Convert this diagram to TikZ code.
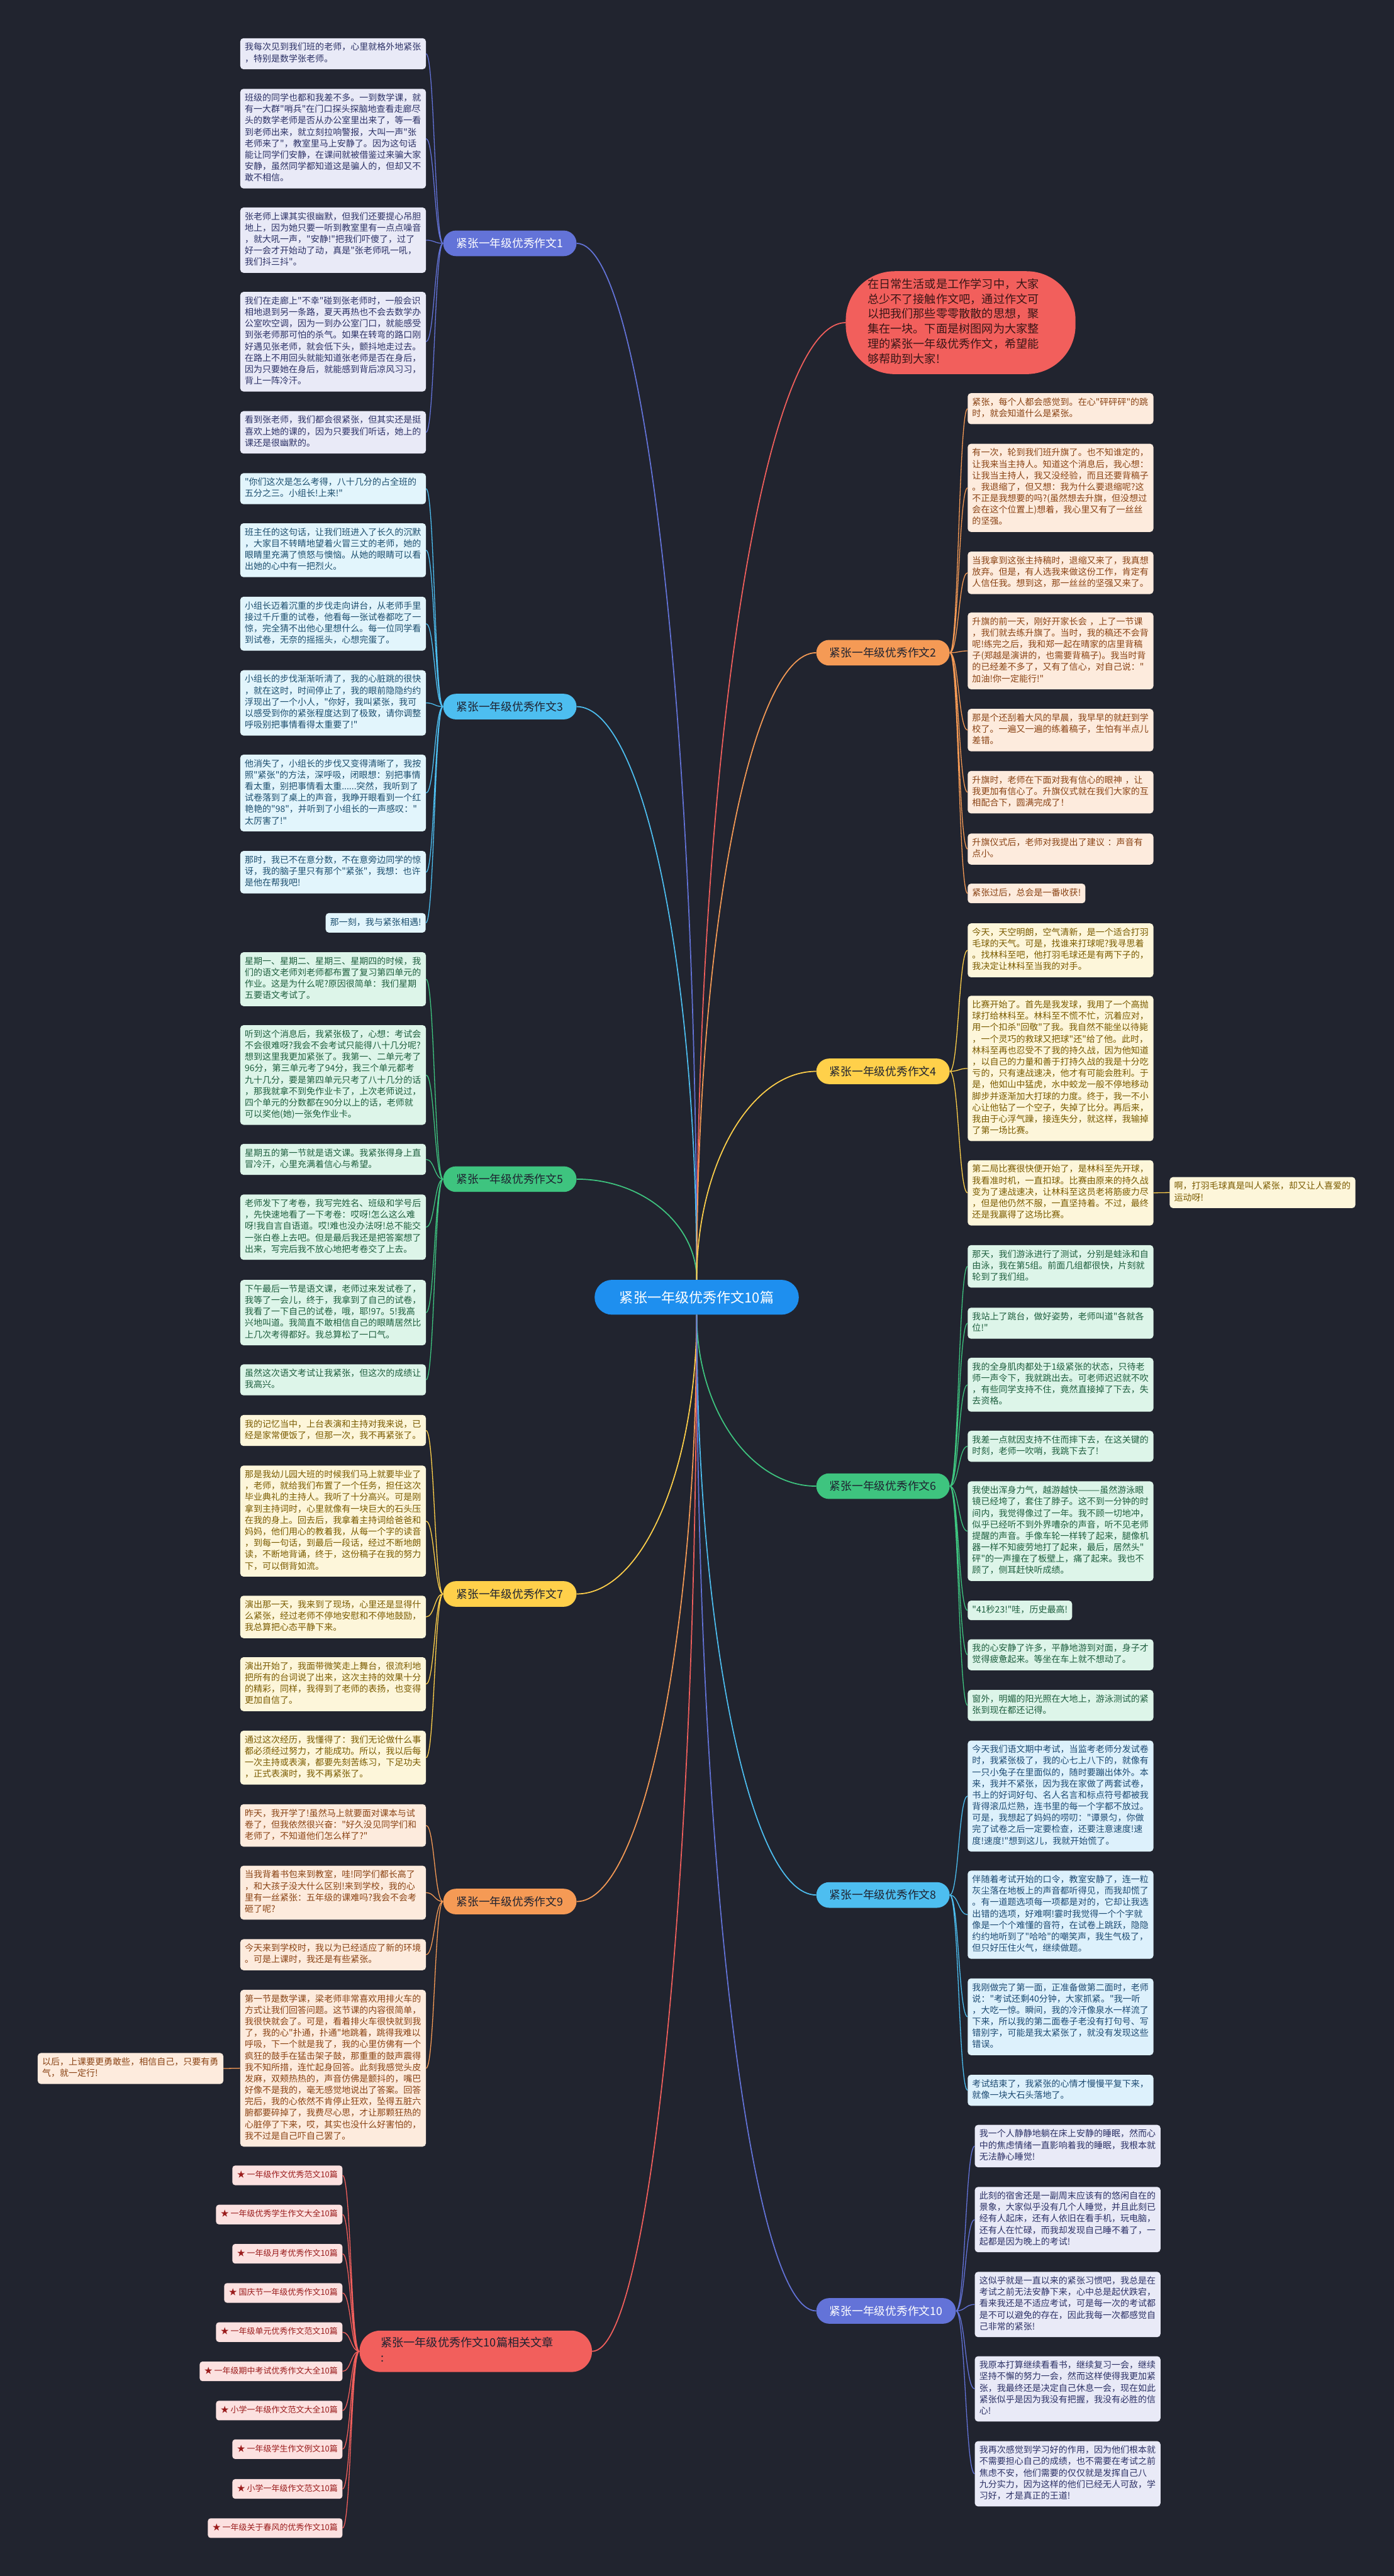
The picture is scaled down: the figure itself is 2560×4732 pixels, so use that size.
\documentclass[tikz,border=0pt]{standalone}
\usepackage{fontspec}
\setmainfont{Noto Sans CJK SC}[Ligatures=TeXOff]
\usepackage{tikz}
\usetikzlibrary{calc}
\definecolor{bgdark}{HTML}{21242F}
\definecolor{darkink}{HTML}{1E2230}
\definecolor{hubblue}{HTML}{1E8FEF}
\definecolor{indigoM}{HTML}{6373D8}
\definecolor{skyM}{HTML}{4DBEF0}
\definecolor{greenM}{HTML}{3EC47F}
\definecolor{yellowM}{HTML}{FFD04A}
\definecolor{orangeM}{HTML}{F59A55}
\definecolor{redM}{HTML}{F25F5C}
\definecolor{lavfill}{HTML}{E9EAF7}
\definecolor{lavtext}{HTML}{2C3166}
\definecolor{cyanfill}{HTML}{E2F5FC}
\definecolor{cyantext}{HTML}{1C4E6E}
\definecolor{mintfill}{HTML}{DDF5E9}
\definecolor{minttext}{HTML}{1E5E3E}
\definecolor{creamfill}{HTML}{FDF6DA}
\definecolor{creamtext}{HTML}{7A5B00}
\definecolor{peachfill}{HTML}{FDEBDD}
\definecolor{peachtext}{HTML}{8A4314}
\definecolor{bluefill}{HTML}{DDF1FC}
\definecolor{bluetext}{HTML}{1D4B73}
\definecolor{pinkfill}{HTML}{FCE1E0}
\definecolor{pinktext}{HTML}{9A1B1B}
\definecolor{introtext}{HTML}{3A1616}

\begin{document}
\begin{tikzpicture}[
    x=1pt, y=-1pt,
    every node/.style={font=\fontsize{16.2}{21}\selectfont},
    hub/.style={fill=hubblue,text=white,rounded corners=32pt,minimum width=375pt,minimum height=64pt,inner sep=0pt,font=\fontsize{25.5}{30}\selectfont},
    branch/.style={rounded corners=23.5pt,minimum height=47pt,inner xsep=24.5pt,inner ysep=0pt,text=darkink,font=\fontsize{20.5}{24}\selectfont},
    introbox/.style={anchor=north west,fill=redM,text=introtext,rounded corners=90pt,text width=342pt,align=left,inner xsep=40pt,inner ysep=12pt,font=\fontsize{21}{27.5}\selectfont,execute at begin node=\strut,execute at end node=\strut},
    relbranch/.style={anchor=north west,fill=redM,text=darkink,rounded corners=38pt,text width=349pt,align=left,inner xsep=39pt,inner ysep=11pt,font=\fontsize{21}{27}\selectfont,execute at begin node=\strut,execute at end node=\strut},
    kidbox/.style={anchor=north west,rounded corners=6pt,text width=324.5pt,align=left,inner xsep=8.25pt,inner ysep=7.5pt,execute at begin node=\strut,execute at end node=\strut},
    kidshort/.style={rounded corners=6pt,inner xsep=8.25pt,inner ysep=7.5pt,execute at begin node=\strut},
    relitem/.style={anchor=east,fill=pinkfill,text=pinktext,rounded corners=5pt,inner xsep=8.5pt,inner ysep=7.5pt,font=\fontsize{15}{21}\selectfont,execute at begin node=\strut},
    lav/.style={fill=lavfill,text=lavtext},
    cyan/.style={fill=cyanfill,text=cyantext},
    mint/.style={fill=mintfill,text=minttext},
    cream/.style={fill=creamfill,text=creamtext},
    peach/.style={fill=peachfill,text=peachtext},
    pale/.style={fill=bluefill,text=bluetext},
    kid/.style={to path={.. controls ($(\tikztostart)!0.5!(\tikztostart -| \tikztotarget)$) and ($(\tikztotarget)!0.5!(\tikztotarget -| \tikztostart)$) .. (\tikztotarget)}},
    trunk/.style={to path={.. controls ($(\tikztostart)!0.55!(\tikztostart |- \tikztotarget)$) and ($(\tikztotarget)!0.55!(\tikztostart |- \tikztotarget)$) .. (\tikztotarget)}},
    thinw/.style={line width=1.5pt},
    thickw/.style={line width=2pt}
  ]
  \fill[bgdark] (0,0) rectangle (2560,4732);

  % centre and intro
  \node[hub] (hub) at (1279.5,2383) {紧张一年级优秀作文10篇};
  \node[introbox] (intro) at (1553,498) {在日常生活或是工作学习中，大家\\总少不了接触作文吧，通过作文可\\以把我们那些零零散散的思想，聚\\集在一块。下面是树图网为大家整\\理的紧张一年级优秀作文，希望能\\够帮助到大家!};

  % branches
  \node[branch,fill=indigoM,text=white,anchor=east] (b1) at (1059,447) {紧张一年级优秀作文1};
  \node[branch,fill=skyM,anchor=east] (b3) at (1059,1298) {紧张一年级优秀作文3};
  \node[branch,fill=greenM,anchor=east] (b5) at (1059,2166) {紧张一年级优秀作文5};
  \node[branch,fill=yellowM,anchor=east] (b7) at (1059,2928) {紧张一年级优秀作文7};
  \node[branch,fill=orangeM,anchor=east] (b9) at (1059,3493) {紧张一年级优秀作文9};
  \node[relbranch] (rel) at (660,4281) {紧张一年级优秀作文10篇相关文章\\:};
  \node[branch,fill=orangeM,anchor=west] (b2) at (1499,1199) {紧张一年级优秀作文2};
  \node[branch,fill=yellowM,anchor=west] (b4) at (1499,1968) {紧张一年级优秀作文4};
  \node[branch,fill=greenM,anchor=west] (b6) at (1499,2730) {紧张一年级优秀作文6};
  \node[branch,fill=skyM,anchor=west] (b8) at (1499,3481) {紧张一年级优秀作文8};
  \node[branch,fill=indigoM,text=white,anchor=west] (b10) at (1499,4245) {紧张一年级优秀作文10};

  % essay 1
  \node[kidbox,lav] (l1a) at (441,70) {我每次见到我们班的老师，心里就格外地紧张\\，特别是数学张老师。};
  \node[kidbox,lav] (l1b) at (441,163) {班级的同学也都和我差不多。一到数学课，就\\有一大群"哨兵"在门口探头探脑地查看走廊尽\\头的数学老师是否从办公室里出来了，等一看\\到老师出来，就立刻拉响警报，大叫一声"张\\老师来了"，教室里马上安静了。因为这句话\\能让同学们安静，在课间就被借鉴过来骗大家\\安静，虽然同学都知道这是骗人的，但却又不\\敢不相信。};
  \node[kidbox,lav] (l1c) at (441,381) {张老师上课其实很幽默，但我们还要提心吊胆\\地上，因为她只要一听到教室里有一点点噪音\\，就大吼一声，"安静!"把我们吓傻了，过了\\好一会才开始动了动，真是"张老师吼一吼，\\我们抖三抖"。};
  \node[kidbox,lav] (l1d) at (441,536) {我们在走廊上"不幸"碰到张老师时，一般会识\\相地退到另一条路，夏天再热也不会去数学办\\公室吹空调，因为一到办公室门口，就能感受\\到张老师那可怕的杀气。如果在转弯的路口刚\\好遇见张老师，就会低下头，颤抖地走过去。\\在路上不用回头就能知道张老师是否在身后，\\因为只要她在身后，就能感到背后凉风习习，\\背上一阵冷汗。};
  \node[kidbox,lav] (l1e) at (441,755) {看到张老师，我们都会很紧张，但其实还是挺\\喜欢上她的课的，因为只要我们听话，她上的\\课还是很幽默的。};

  % essay 3
  \node[kidbox,cyan] (l3a) at (441,869) {"你们这次是怎么考得，八十几分的占全班的\\五分之三。小组长!上来!"};
  \node[kidbox,cyan] (l3b) at (441,961) {班主任的这句话，让我们班进入了长久的沉默\\，大家目不转睛地望着火冒三丈的老师，她的\\眼睛里充满了愤怒与懊恼。从她的眼睛可以看\\出她的心中有一把烈火。};
  \node[kidbox,cyan] (l3c) at (441,1096) {小组长迈着沉重的步伐走向讲台，从老师手里\\接过千斤重的试卷，他看每一张试卷都吃了一\\惊，完全猜不出他心里想什么。每一位同学看\\到试卷，无奈的摇摇头，心想完蛋了。};
  \node[kidbox,cyan] (l3d) at (441,1231) {小组长的步伐渐渐听清了，我的心脏跳的很快\\，就在这时，时间停止了，我的眼前隐隐约约\\浮现出了一个小人，"你好，我叫紧张，我可\\以感受到你的紧张程度达到了极致，请你调整\\呼吸别把事情看得太重要了!"};
  \node[kidbox,cyan] (l3e) at (441,1386) {他消失了，小组长的步伐又变得清晰了，我按\\照"紧张"的方法，深呼吸，闭眼想：别把事情\\看太重，别把事情看太重......突然，我听到了\\试卷落到了桌上的声音，我睁开眼看到一个红\\艳艳的"98"，并听到了小组长的一声感叹："\\太厉害了!"};
  \node[kidbox,cyan] (l3f) at (441,1563) {那时，我已不在意分数，不在意旁边同学的惊\\讶，我的脑子里只有那个"紧张"，我想：也许\\是他在帮我吧!};
  \node[kidshort,cyan,anchor=north east] (l3g) at (782,1677) {那一刻，我与紧张相遇!};

  % essay 5
  \node[kidbox,mint] (l5a) at (441,1749) {星期一、星期二、星期三、星期四的时候，我\\们的语文老师刘老师都布置了复习第四单元的\\作业。这是为什么呢?原因很简单：我们星期\\五要语文考试了。};
  \node[kidbox,mint] (l5b) at (441,1883) {听到这个消息后，我紧张极了，心想：考试会\\不会很难呀?我会不会考试只能得八十几分呢?\\想到这里我更加紧张了。我第一、二单元考了\\96分，第三单元考了94分，我三个单元都考\\九十几分，要是第四单元只考了八十几分的话\\，那我就拿不到免作业卡了，上次老师说过，\\四个单元的分数都在90分以上的话，老师就\\可以奖他(她)一张免作业卡。};
  \node[kidbox,mint] (l5c) at (441,2101) {星期五的第一节就是语文课。我紧张得身上直\\冒冷汗，心里充满着信心与希望。};
  \node[kidbox,mint] (l5d) at (441,2194) {老师发下了考卷，我写完姓名、班级和学号后\\，先快速地看了一下考卷：哎呀!怎么这么难\\呀!我自言自语道。哎!难也没办法呀!总不能交\\一张白卷上去吧。但是最后我还是把答案想了\\出来，写完后我不放心地把考卷交了上去。};
  \node[kidbox,mint] (l5e) at (441,2351) {下午最后一节是语文课，老师过来发试卷了，\\我等了一会儿，终于，我拿到了自己的试卷，\\我看了一下自己的试卷，哦，耶!97。5!我高\\兴地叫道。我简直不敢相信自己的眼睛居然比\\上几次考得都好。我总算松了一口气。};
  \node[kidbox,mint] (l5f) at (441,2506) {虽然这次语文考试让我紧张，但这次的成绩让\\我高兴。};

  % essay 7
  \node[kidbox,cream] (l7a) at (441,2599) {我的记忆当中，上台表演和主持对我来说，已\\经是家常便饭了，但那一次，我不再紧张了。};
  \node[kidbox,cream] (l7b) at (441,2692) {那是我幼儿园大班的时候我们马上就要毕业了\\，老师，就给我们布置了一个任务，担任这次\\毕业典礼的主持人。我听了十分高兴。可是刚\\拿到主持词时，心里就像有一块巨大的石头压\\在我的身上。回去后，我拿着主持词给爸爸和\\妈妈，他们用心的教着我，从每一个字的读音\\，到每一句话，到最后一段话，经过不断地朗\\读，不断地背诵，终于，这份稿子在我的努力\\下，可以倒背如流。};
  \node[kidbox,cream] (l7c) at (441,2931) {演出那一天，我来到了现场，心里还是显得什\\么紧张，经过老师不停地安慰和不停地鼓励，\\我总算把心态平静下来。};
  \node[kidbox,cream] (l7d) at (441,3044) {演出开始了，我面带微笑走上舞台，很流利地\\把所有的台词说了出来，这次主持的效果十分\\的精彩，同样，我得到了老师的表扬，也变得\\更加自信了。};
  \node[kidbox,cream] (l7e) at (441,3179) {通过这次经历，我懂得了：我们无论做什么事\\都必须经过努力，才能成功。所以，我以后每\\一次主持或表演，都要先刻苦练习，下足功夫\\，正式表演时，我不再紧张了。};

  % essay 9
  \node[kidbox,peach] (l9a) at (441,3314) {昨天，我开学了!虽然马上就要面对课本与试\\卷了，但我依然很兴奋："好久没见同学们和\\老师了，不知道他们怎么样了?"};
  \node[kidbox,peach] (l9b) at (441,3427) {当我背着书包来到教室，哇!同学们都长高了\\，和大孩子没大什么区别!来到学校，我的心\\里有一丝紧张：五年级的课难吗?我会不会考\\砸了呢?};
  \node[kidbox,peach] (l9c) at (441,3562) {今天来到学校时，我以为已经适应了新的环境\\。可是上课时，我还是有些紧张。};
  \node[kidbox,peach] (l9d) at (441,3655) {第一节是数学课，梁老师非常喜欢用排火车的\\方式让我们回答问题。这节课的内容很简单，\\我很快就会了。可是，看着排火车很快就到我\\了，我的心"扑通，扑通"地跳着，跳得我难以\\呼吸，下一个就是我了，我的心里仿佛有一个\\疯狂的鼓手在猛击架子鼓，那重重的鼓声震得\\我不知所措，连忙起身回答。此刻我感觉头皮\\发麻，双颊热热的，声音仿佛是颤抖的，嘴巴\\好像不是我的，毫无感觉地说出了答案。回答\\完后，我的心依然不肯停止狂欢，坠得五脏六\\腑都要碎掉了，我费尽心思，才让那颗狂热的\\心脏停了下来，哎，其实也没什么好害怕的，\\我不过是自己吓自己罢了。};
  \node[kidbox,peach] (noteL) at (69,3771) {以后，上课要更勇敢些，相信自己，只要有勇\\气，就一定行!};

  % related articles
  \node[relitem] (s1) at (629,3996) {★ 一年级作文优秀范文10篇};
  \node[relitem] (s2) at (629,4068) {★ 一年级优秀学生作文大全10篇};
  \node[relitem] (s3) at (629,4140) {★ 一年级月考优秀作文10篇};
  \node[relitem] (s4) at (629,4212) {★ 国庆节一年级优秀作文10篇};
  \node[relitem] (s5) at (629,4284) {★ 一年级单元优秀作文范文10篇};
  \node[relitem] (s6) at (629,4356) {★ 一年级期中考试优秀作文大全10篇};
  \node[relitem] (s7) at (629,4428) {★ 小学一年级作文范文大全10篇};
  \node[relitem] (s8) at (629,4499) {★ 一年级学生作文例文10篇};
  \node[relitem] (s9) at (629,4572) {★ 小学一年级作文范文10篇};
  \node[relitem] (s10) at (629,4644) {★ 一年级关于春风的优秀作文10篇};

  % essay 2
  \node[kidbox,peach] (r2a) at (1777,722) {紧张，每个人都会感觉到。在心"砰砰砰"的跳\\时，就会知道什么是紧张。};
  \node[kidbox,peach] (r2b) at (1777,815) {有一次，轮到我们班升旗了。也不知谁定的，\\让我来当主持人。知道这个消息后，我心想：\\让我当主持人，我又没经验，而且还要背稿子\\。我退缩了，但又想：我为什么要退缩呢?这\\不正是我想要的吗?(虽然想去升旗，但没想过\\会在这个位置上)想着，我心里又有了一丝丝\\的坚强。};
  \node[kidbox,peach] (r2c) at (1777,1013) {当我拿到这张主持稿时，退缩又来了，我真想\\放弃。但是，有人选我来做这份工作，肯定有\\人信任我。想到这，那一丝丝的坚强又来了。};
  \node[kidbox,peach] (r2d) at (1777,1125) {升旗的前一天，刚好开家长会 ，上了一节课\\，我们就去练升旗了。当时，我的稿还不会背\\呢!练完之后，我和郑一起在晴家的店里背稿\\子(郑越是演讲的，也需要背稿子)。我当时背\\的已经差不多了，又有了信心，对自己说："\\加油!你一定能行!"};
  \node[kidbox,peach] (r2e) at (1777,1302) {那是个还刮着大风的早晨，我早早的就赶到学\\校了。一遍又一遍的练着稿子，生怕有半点儿\\差错。};
  \node[kidbox,peach] (r2f) at (1777,1416) {升旗时，老师在下面对我有信心的眼神 ，让\\我更加有信心了。升旗仪式就在我们大家的互\\相配合下，圆满完成了！};
  \node[kidbox,peach] (r2g) at (1777,1531) {升旗仪式后，老师对我提出了建议 ：声音有\\点小。};
  \node[kidshort,peach,anchor=north west] (r2h) at (1777,1623) {紧张过后，总会是一番收获!};

  % essay 4
  \node[kidbox,cream] (r4a) at (1777,1696) {今天，天空明朗，空气清新，是一个适合打羽\\毛球的天气。可是，找谁来打球呢?我寻思着\\。找林科至吧，他打羽毛球还是有两下子的，\\我决定让林科至当我的对手。};
  \node[kidbox,cream] (r4b) at (1777,1829) {比赛开始了。首先是我发球，我用了一个高抛\\球打给林科至。林科至不慌不忙，沉着应对，\\用一个扣杀"回敬"了我。我自然不能坐以待毙\\，一个灵巧的救球又把球"还"给了他。此时，\\林科至再也忍受不了我的持久战，因为他知道\\，以自己的力量和善于打持久战的我是十分吃\\亏的，只有速战速决，他才有可能会胜利。于\\是，他如山中猛虎，水中蛟龙一般不停地移动\\脚步并逐渐加大打球的力度。终于，我一不小\\心让他钻了一个空子，失掉了比分。再后来，\\我由于心浮气躁，接连失分，就这样，我输掉\\了第一场比赛。};
  \node[kidbox,cream] (r4c) at (1777,2131) {第二局比赛很快便开始了，是林科至先开球，\\我看准时机，一直扣球。比赛由原来的持久战\\变为了速战速决，让林科至这员老将筋疲力尽\\，但是他仍然不服，一直坚持着。不过，最终\\还是我赢得了这场比赛。};
  \node[kidbox,cream] (noteR) at (2148,2162) {啊，打羽毛球真是叫人紧张，却又让人喜爱的\\运动呀!};

  % essay 6
  \node[kidbox,mint] (r6a) at (1777,2287) {那天，我们游泳进行了测试，分别是蛙泳和自\\由泳，我在第5组。前面几组都很快，片刻就\\轮到了我们组。};
  \node[kidbox,mint] (r6b) at (1777,2402) {我站上了跳台，做好姿势，老师叫道"各就各\\位!"};
  \node[kidbox,mint] (r6c) at (1777,2494) {我的全身肌肉都处于1级紧张的状态，只待老\\师一声令下，我就跳出去。可老师迟迟就不吹\\，有些同学支持不住，竟然直接掉了下去，失\\去资格。};
  \node[kidbox,mint] (r6d) at (1777,2628) {我差一点就因支持不住而摔下去，在这关键的\\时刻，老师一吹哨，我跳下去了!};
  \node[kidbox,mint] (r6e) at (1777,2721) {我使出浑身力气，越游越快———虽然游泳眼\\镜已经垮了，套住了脖子。这不到一分钟的时\\间内，我觉得像过了一年。我不顾一切地冲，\\似乎已经听不到外界嘈杂的声音，听不见老师\\提醒的声音。手像车轮一样转了起来，腿像机\\器一样不知疲劳地打了起来，最后，居然头"\\砰"的一声撞在了板壁上，痛了起来。我也不\\顾了，侧耳赶快听成绩。};
  \node[kidshort,mint,anchor=north west] (r6f) at (1777,2940) {"41秒23!"哇，历史最高!};
  \node[kidbox,mint] (r6g) at (1777,3011) {我的心安静了许多，平静地游到对面，身子才\\觉得疲惫起来。等坐在车上就不想动了。};
  \node[kidbox,mint] (r6h) at (1777,3104) {窗外，明媚的阳光照在大地上，游泳测试的紧\\张到现在都还记得。};

  % essay 8
  \node[kidbox,pale] (r8a) at (1777,3197) {今天我们语文期中考试，当监考老师分发试卷\\时，我紧张极了，我的心七上八下的，就像有\\一只小兔子在里面似的，随时要蹦出体外。本\\来，我并不紧张，因为我在家做了两套试卷，\\书上的好词好句、名人名言和标点符号都被我\\背得滚瓜烂熟，连书里的每一个字都不放过。\\可是，我想起了妈妈的唠叨："谭景匀，你做\\完了试卷之后一定要检查，还要注意速度!速\\度!速度!"想到这儿，我就开始慌了。};
  \node[kidbox,pale] (r8b) at (1777,3436) {伴随着考试开始的口令，教室安静了，连一粒\\灰尘落在地板上的声音都听得见，而我却慌了\\。有一道题选项每一项都是对的，它却让我选\\出错的选项，好难啊!霎时我觉得一个个字就\\像是一个个难懂的音符，在试卷上跳跃，隐隐\\约约地听到了"哈哈"的嘲笑声，我生气极了，\\但只好压住火气，继续做题。};
  \node[kidbox,pale] (r8c) at (1777,3634) {我刚做完了第一面，正准备做第二面时，老师\\说："考试还剩40分钟，大家抓紧。"我一听\\，大吃一惊。瞬间，我的冷汗像泉水一样流了\\下来，所以我的第二面卷子老没有打句号、写\\错别字，可能是我太紧张了，就没有发现这些\\错误。};
  \node[kidbox,pale] (r8d) at (1777,3811) {考试结束了，我紧张的心情才慢慢平复下来，\\就像一块大石头落地了。};

  % essay 10
  \node[kidbox,lav] (r10a) at (1790,3903) {我一个人静静地躺在床上安静的睡眠，然而心\\中的焦虑情绪一直影响着我的睡眠，我根本就\\无法静心睡觉!};
  \node[kidbox,lav] (r10b) at (1790,4017) {此刻的宿舍还是一副周末应该有的悠闲自在的\\景象，大家似乎没有几个人睡觉，并且此刻已\\经有人起床，还有人依旧在看手机，玩电脑，\\还有人在忙碌，而我却发现自己睡不着了，一\\起都是因为晚上的考试!};
  \node[kidbox,lav] (r10c) at (1790,4173) {这似乎就是一直以来的紧张习惯吧，我总是在\\考试之前无法安静下来，心中总是起伏跌宕，\\看来我还是不适应考试，可是每一次的考试都\\是不可以避免的存在，因此我每一次都感觉自\\己非常的紧张!};
  \node[kidbox,lav] (r10d) at (1790,4328) {我原本打算继续看看书，继续复习一会，继续\\坚持不懈的努力一会，然而这样使得我更加紧\\张，我最终还是决定自己休息一会，现在如此\\紧张似乎是因为我没有把握，我没有必胜的信\\心!};
  \node[kidbox,lav] (r10e) at (1790,4484) {我再次感觉到学习好的作用，因为他们根本就\\不需要担心自己的成绩，也不需要在考试之前\\焦虑不安，他们需要的仅仅就是发挥自己八\\九分实力，因为这样的他们已经无人可敌，学\\习好，才是真正的王道!};

  % trunk lines
  \draw[redM,thickw] (hub.north) to[trunk] (intro.west);
  \draw[indigoM,thickw] (hub.north) to[trunk] (b1.east);
  \draw[skyM,thickw] (hub.north) to[trunk] (b3.east);
  \draw[greenM,thickw] (hub.north) to[trunk] (b5.east);
  \draw[orangeM,thickw] (hub.north) to[trunk] (b2.west);
  \draw[yellowM,thickw] (hub.north) to[trunk] (b4.west);
  \draw[yellowM,thickw] (hub.south) to[trunk] (b7.east);
  \draw[orangeM,thickw] (hub.south) to[trunk] (b9.east);
  \draw[redM,thickw] (hub.south) to[trunk] (rel.east);
  \draw[greenM,thickw] (hub.south) to[trunk] (b6.west);
  \draw[skyM,thickw] (hub.south) to[trunk] (b8.west);
  \draw[indigoM,thickw] (hub.south) to[trunk] (b10.west);

  % branch to essay lines
  \draw[indigoM,thinw] (b1.west) to[kid] (l1a.east) (b1.west) to[kid] (l1b.east) (b1.west) to[kid] (l1c.east) (b1.west) to[kid] (l1d.east) (b1.west) to[kid] (l1e.east);
  \draw[skyM,thinw] (b3.west) to[kid] (l3a.east) (b3.west) to[kid] (l3b.east) (b3.west) to[kid] (l3c.east) (b3.west) to[kid] (l3d.east) (b3.west) to[kid] (l3e.east) (b3.west) to[kid] (l3f.east) (b3.west) to[kid] (l3g.east);
  \draw[greenM,thinw] (b5.west) to[kid] (l5a.east) (b5.west) to[kid] (l5b.east) (b5.west) to[kid] (l5c.east) (b5.west) to[kid] (l5d.east) (b5.west) to[kid] (l5e.east) (b5.west) to[kid] (l5f.east);
  \draw[yellowM,thinw] (b7.west) to[kid] (l7a.east) (b7.west) to[kid] (l7b.east) (b7.west) to[kid] (l7c.east) (b7.west) to[kid] (l7d.east) (b7.west) to[kid] (l7e.east);
  \draw[orangeM,thinw] (b9.west) to[kid] (l9a.east) (b9.west) to[kid] (l9b.east) (b9.west) to[kid] (l9c.east) (b9.west) to[kid] (l9d.east);
  \draw[orangeM,thinw] (l9d.west) -- (noteL.east);
  \draw[redM,thinw] (rel.west) to[kid] (s1.east) (rel.west) to[kid] (s2.east) (rel.west) to[kid] (s3.east) (rel.west) to[kid] (s4.east) (rel.west) to[kid] (s5.east) (rel.west) to[kid] (s6.east) (rel.west) to[kid] (s7.east) (rel.west) to[kid] (s8.east) (rel.west) to[kid] (s9.east) (rel.west) to[kid] (s10.east);
  \draw[orangeM,thinw] (b2.east) to[kid] (r2a.west) (b2.east) to[kid] (r2b.west) (b2.east) to[kid] (r2c.west) (b2.east) to[kid] (r2d.west) (b2.east) to[kid] (r2e.west) (b2.east) to[kid] (r2f.west) (b2.east) to[kid] (r2g.west) (b2.east) to[kid] (r2h.west);
  \draw[yellowM,thinw] (b4.east) to[kid] (r4a.west) (b4.east) to[kid] (r4b.west) (b4.east) to[kid] (r4c.west);
  \draw[yellowM,thinw] (r4c.east) -- (noteR.west);
  \draw[greenM,thinw] (b6.east) to[kid] (r6a.west) (b6.east) to[kid] (r6b.west) (b6.east) to[kid] (r6c.west) (b6.east) to[kid] (r6d.west) (b6.east) to[kid] (r6e.west) (b6.east) to[kid] (r6f.west) (b6.east) to[kid] (r6g.west) (b6.east) to[kid] (r6h.west);
  \draw[skyM,thinw] (b8.east) to[kid] (r8a.west) (b8.east) to[kid] (r8b.west) (b8.east) to[kid] (r8c.west) (b8.east) to[kid] (r8d.west);
  \draw[indigoM,thinw] (b10.east) to[kid] (r10a.west) (b10.east) to[kid] (r10b.west) (b10.east) to[kid] (r10c.west) (b10.east) to[kid] (r10d.west) (b10.east) to[kid] (r10e.west);
\end{tikzpicture}
\end{document}
